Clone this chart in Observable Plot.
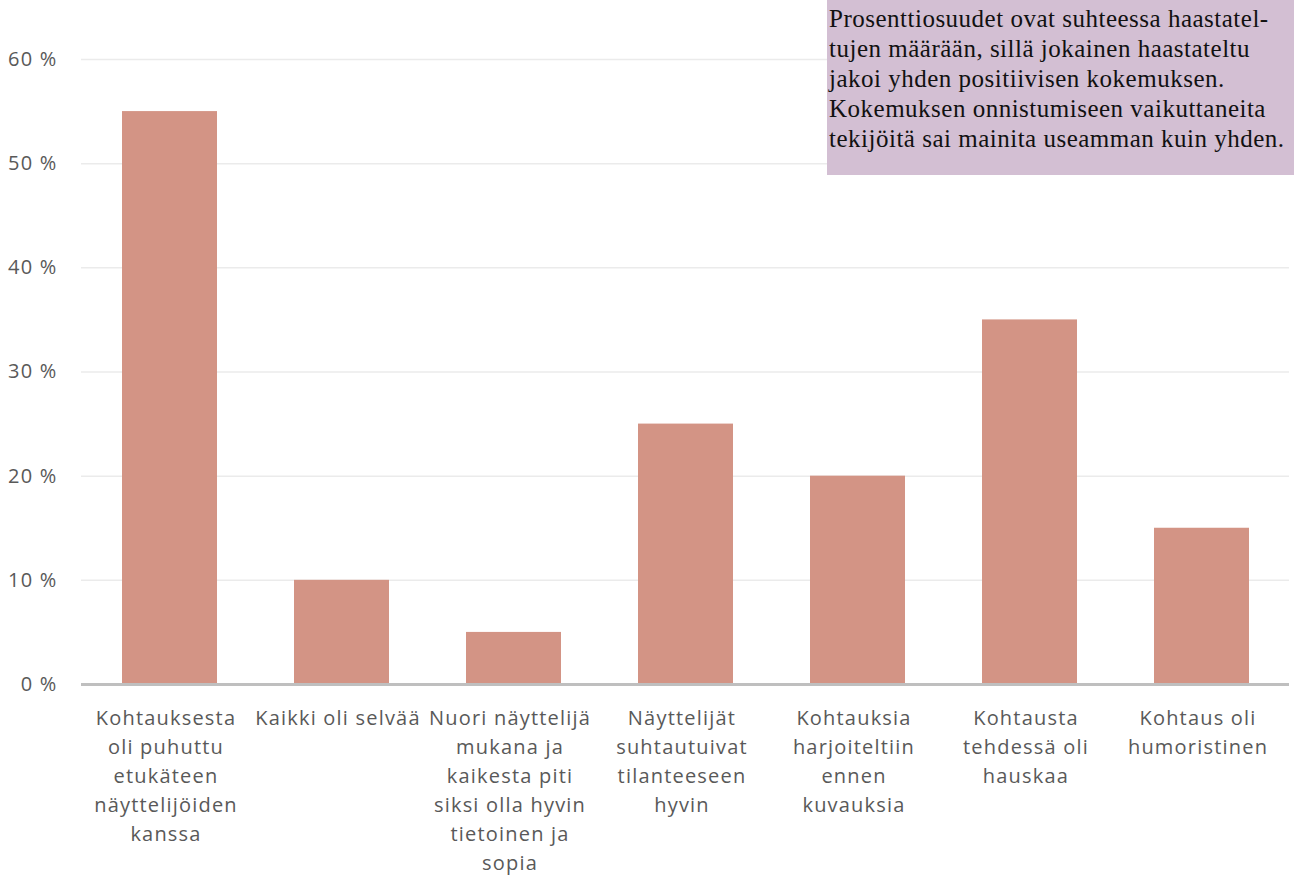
<!DOCTYPE html>
<html><head><meta charset="utf-8">
<script src="https://cdn.jsdelivr.net/npm/d3@7"></script>
<script src="https://cdn.jsdelivr.net/npm/@observablehq/plot@0.6"></script>
<style>
body{margin:0;background:#fff;}
#wrap{position:relative;width:1294px;height:875px;}
#note{position:absolute;left:827px;top:0;width:467px;height:175px;background:#d3bfd3;font-family:"Liberation Serif",serif;font-size:25px;letter-spacing:0.5px;line-height:30px;color:#111;white-space:pre;padding:4px 0 0 2px;box-sizing:border-box;overflow:hidden;}
</style></head>
<body><div id="wrap"><div id="note"></div></div>
<script>
const categories = ["Kohtauksesta oli puhuttu etukäteen näyttelijöiden kanssa","Kaikki oli selvää","Nuori näyttelijä mukana ja kaikesta piti siksi olla hyvin tietoinen ja sopia","Näyttelijät suhtautuivat tilanteeseen hyvin","Kohtauksia harjoiteltiin ennen kuvauksia","Kohtausta tehdessä oli hauskaa","Kohtaus oli humoristinen"];
const values = [55,10,5,25,20,35,15];
const tickLabels = ["Kohtauksesta\noli puhuttu\netukäteen\nnäyttelijöiden\nkanssa","Kaikki oli selvää","Nuori näyttelijä\nmukana ja\nkaikesta piti\nsiksi olla hyvin\ntietoinen ja\nsopia","Näyttelijät\nsuhtautuivat\ntilanteeseen\nhyvin","Kohtauksia\nharjoiteltiin\nennen\nkuvauksia","Kohtausta\ntehdessä oli\nhauskaa","Kohtaus oli\nhumoristinen"];
const yTicks = [0,10,20,30,40,50,60];
const noteText = "Prosenttiosuudet ovat suhteessa haastatel-\ntujen määrään, sillä jokainen haastateltu\njakoi yhden positiivisen kokemuksen.\nKokemuksen onnistumiseen vaikuttaneita\ntekijöitä sai mainita useamman kuin yhden.";

const data = categories.map((c,i)=>({c, v: values[i], label: tickLabels[i]}));
const labelOf = new Map(data.map(d=>[d.c,d.label]));

const chart = Plot.plot({
  width: 1294, height: 875,
  marginLeft: 81, marginRight: 5, marginTop: 59, marginBottom: 191,
  style: {fontFamily: "'Open Sans', sans-serif", fontSize: "20px", letterSpacing: "1.2px", color: "#595959", background: "transparent"},
  x: {domain: categories, paddingInner: 0.45, paddingOuter: 0.225, label: null},
  y: {domain: [0,60], label: null},
  marks: [
    Plot.gridY(yTicks, {stroke: "#ebebeb", strokeOpacity: 1, strokeWidth: 1.5}),
    Plot.barY(data, {x: "c", y: "v", fill: "#d39485"}),
    Plot.ruleY([0], {stroke: "#bfbfbf", strokeWidth: 3}),
    Plot.axisY(yTicks, {tickSize: 0, tickPadding: 24, tickFormat: d => d + " %", fontSize: 20, fill: "#595959", label: null}),
    Plot.axisX({tickSize: 0, tickPadding: 20, dx: -4, tickFormat: d => labelOf.get(d), lineHeight: 1.45, fontSize: 20, fill: "#595959", label: null, textOverflow: null})
  ]
});
document.getElementById("wrap").prepend(chart);
chart.style.position = "absolute"; chart.style.left = "0"; chart.style.top = "0";
document.getElementById("note").textContent = noteText;
</script></body></html>
